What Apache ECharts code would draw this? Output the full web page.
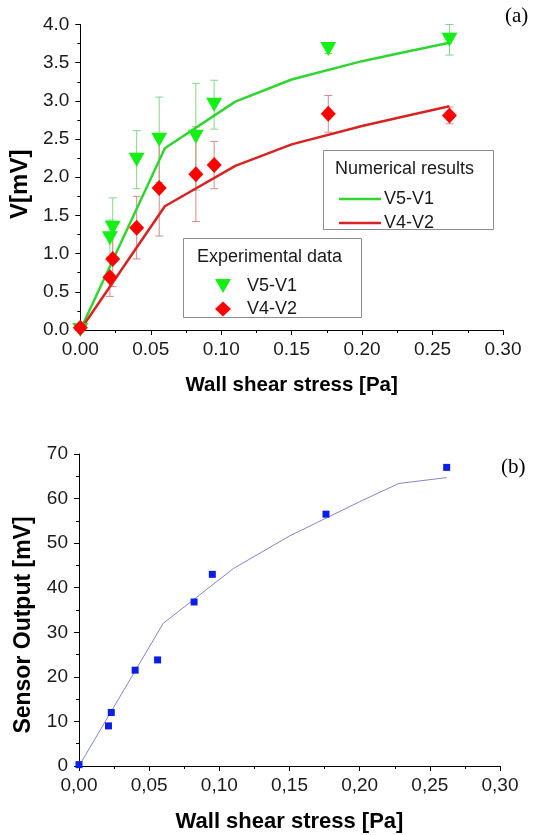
<!DOCTYPE html>
<html>
<head>
    <meta charset="utf-8">
    <script src="https://cdn.jsdelivr.net/npm/echarts@6/dist/echarts.min.js"></script>
</head>
<body style="margin:0;background:#fff;">
<div id="main" style="width: 536px;height:835px;"></div>

<script type="text/javascript">
    // wall shear stress of the experiments [Pa]
    var shearExp = [0, 0.021, 0.023, 0.040, 0.056, 0.082, 0.095, 0.176, 0.262];
    // experimental data (a)
    var expV51 = [0.0, 1.20, 1.34, 2.23, 2.49, 2.53, 2.95, 3.68, 3.80];
    var errV51 = [0, 0.24, 0.39, 0.38, 0.56, 0.70, 0.32, 0.06, 0.20];
    var expV42 = [0.03, 0.69, 0.93, 1.34, 1.86, 2.04, 2.16, 2.83, 2.81];
    var errV42 = [0, 0.25, 0.36, 0.41, 0.63, 0.62, 0.31, 0.24, 0.11];
    // numerical results
    var shearNum = [0, 0.06, 0.11, 0.15, 0.20, 0.228, 0.262];
    var numV51 = [0, 2.38, 2.99, 3.28, 3.52, 3.63, 3.76];
    var numV42 = [0, 1.62, 2.15, 2.43, 2.67, 2.79, 2.93];
    // sensor output (b)
    var sensorOut = [0.3, 9.0, 12.0, 21.5, 23.8, 36.8, 43.0, 56.5, 67.0];
    var sensorFit = [0, 32.0, 44.3, 51.6, 59.3, 63.4, 64.7];

    // tick labels
    var xTicksA = ['0.00', '0.05', '0.10', '0.15', '0.20', '0.25', '0.30'];
    var yTicksA = ['0.0', '0.5', '1.0', '1.5', '2.0', '2.5', '3.0', '3.5', '4.0'];
    var xTicksB = ['0,00', '0,05', '0,10', '0,15', '0,20', '0,25', '0,30'];
    var yTicksB = ['0', '10', '20', '30', '40', '50', '60', '70'];

    var legendText = {
        'num51': 'V5-V1', 'num42': 'V4-V2',
        'exp51': 'V5-V1', 'exp42': 'V4-V2'
    };

    var FONT = '"Liberation Sans", Arial, sans-serif';
    var dom = document.getElementById("main");
    var myChart = echarts.init(dom);

    function pairs(xs, ys) {
        return xs.map(function (x, i) { return [x, ys[i]]; });
    }

    // vertical error bars with caps
    function errorBars(name, xs, ys, errs, color, idx) {
        return {
            name: name,
            type: 'custom',
            xAxisIndex: idx, yAxisIndex: idx,
            z: 1,
            silent: true,
            data: xs.map(function (x, i) { return [x, ys[i] - errs[i], ys[i] + errs[i]]; }),
            encode: { x: 0, y: [1, 2] },
            renderItem: function (params, api) {
                var lo = api.coord([api.value(0), api.value(1)]);
                var hi = api.coord([api.value(0), api.value(2)]);
                if (Math.abs(lo[1] - hi[1]) < 1) return null;
                var w = 4;
                var st = { stroke: color, lineWidth: 1 };
                return {
                    type: 'group',
                    children: [
                        { type: 'line', shape: { x1: lo[0], y1: lo[1], x2: hi[0], y2: hi[1] }, style: st },
                        { type: 'line', shape: { x1: hi[0] - w, y1: hi[1], x2: hi[0] + w, y2: hi[1] }, style: st },
                        { type: 'line', shape: { x1: lo[0] - w, y1: lo[1], x2: lo[0] + w, y2: lo[1] }, style: st }
                    ]
                };
            }
        };
    }

    function xAxisOf(idx, labels, nameSize) {
        return {
            type: 'value', gridIndex: idx, min: 0, max: 0.3, interval: 0.05,
            name: 'Wall shear stress [Pa]', nameLocation: 'middle', nameGap: 45,
            nameTextStyle: { fontFamily: FONT, fontWeight: 'bold', fontSize: nameSize, color: '#000' },
            axisLine: { show: true, onZero: false, lineStyle: { color: '#000', width: 1 } },
            axisTick: { show: true, length: 5, lineStyle: { color: '#000' } },
            minorTick: { show: true, splitNumber: 2, length: 3, lineStyle: { color: '#000' } },
            splitLine: { show: false },
            axisLabel: {
                margin: 10, fontFamily: FONT, fontSize: 19, color: '#1a1a1a',
                formatter: function (v, i) { return labels[i]; }
            }
        };
    }

    function yAxisOf(idx, max, interval, labels, name, nameSize, shift) {
        return {
            type: 'value', gridIndex: idx, min: 0, max: max, interval: interval,
            name: name, nameLocation: 'middle', nameGap: 44,
            nameTextStyle: { fontFamily: FONT, fontWeight: 'bold', fontSize: nameSize, color: '#000', padding: [0, shift, 0, 0] },
            axisLine: { show: true, onZero: false, lineStyle: { color: '#000', width: 1 } },
            axisTick: { show: true, length: 5, lineStyle: { color: '#000' } },
            minorTick: { show: true, splitNumber: 2, length: 3, lineStyle: { color: '#000' } },
            splitLine: { show: false },
            axisLabel: {
                margin: 11, fontFamily: FONT, fontSize: 19, color: '#1a1a1a',
                formatter: function (v, i) { return labels[i]; }
            }
        };
    }

    option = {
        animation: false,
        backgroundColor: '#fff',
        grid: [
            { left: 79, top: 24.5, width: 424, height: 305.5 },
            { left: 79, top: 454, width: 421, height: 312 }
        ],
        xAxis: [xAxisOf(0, xTicksA, 20.5), xAxisOf(1, xTicksB, 22)],
        yAxis: [
            yAxisOf(0, 4, 0.5, yTicksA, 'V[mV]', 24, 14),
            yAxisOf(1, 70, 10, yTicksB, 'Sensor Output [mV]', 23, 30)
        ],
        legend: [
            {
                data: ['num51', 'num42'], orient: 'vertical', left: 334, top: 185,
                icon: 'rect',
                itemWidth: 42, itemHeight: 2.5, itemGap: 6, selectedMode: false,
                formatter: function (n) { return legendText[n]; },
                textStyle: { fontFamily: FONT, fontSize: 18, lineHeight: 18, color: '#1a1a1a', padding: [0, 0, 0, -2] }
            },
            {
                data: [
                    { name: 'exp51', icon: 'path://M0,0 L16,0 L8,14 Z' },
                    { name: 'exp42', icon: 'diamond' }
                ],
                orient: 'vertical', left: 210, top: 272,
                itemWidth: 16, itemHeight: 15, itemGap: 5, selectedMode: false,
                formatter: function (n) { return legendText[n]; },
                textStyle: { fontFamily: FONT, fontSize: 18, lineHeight: 18, color: '#1a1a1a', padding: [0, 0, 0, 11] }
            }
        ],
        graphic: [
            { type: 'rect', z: 0, shape: { x: 323.5, y: 150.5, width: 170, height: 79 }, style: { fill: '#fff', stroke: '#8c8c8c', lineWidth: 1 } },
            { type: 'text', z: 5, left: 335, top: 160, style: { text: 'Numerical results', font: '18px ' + FONT, fill: '#1a1a1a' } },
            { type: 'rect', z: 0, shape: { x: 183.5, y: 238.5, width: 178, height: 79 }, style: { fill: '#fff', stroke: '#8c8c8c', lineWidth: 1 } },
            { type: 'text', z: 5, left: 197, top: 248, style: { text: 'Experimental data', font: '18px ' + FONT, fill: '#1a1a1a' } },
            { type: 'text', left: 505, top: 6, style: { text: '(a)', font: '21px "Liberation Serif", "Times New Roman", serif', fill: '#000' } },
            { type: 'text', left: 501, top: 457, style: { text: '(b)', font: '21px "Liberation Serif", "Times New Roman", serif', fill: '#000' } }
        ],
        series: [
            errorBars('err51', shearExp, expV51, errV51, '#86d886', 0),
            errorBars('err42', shearExp, expV42, errV42, '#d88a8a', 0),
            {
                name: 'num51', type: 'line', xAxisIndex: 0, yAxisIndex: 0, z: 2,
                symbol: 'none', data: pairs(shearNum, numV51),
                lineStyle: { color: '#2fd62f', width: 2.5 }, itemStyle: { color: '#2fd62f' }
            },
            {
                name: 'num42', type: 'line', xAxisIndex: 0, yAxisIndex: 0, z: 2,
                symbol: 'none', data: pairs(shearNum, numV42),
                lineStyle: { color: '#d92323', width: 2.5 }, itemStyle: { color: '#d92323' }
            },
            {
                name: 'exp51', type: 'scatter', xAxisIndex: 0, yAxisIndex: 0, z: 3,
                symbol: 'triangle', symbolRotate: 180, symbolSize: [16, 14], symbolKeepAspect: true,
                data: pairs(shearExp, expV51), itemStyle: { color: '#14f014', opacity: 1 }
            },
            {
                name: 'exp42', type: 'scatter', xAxisIndex: 0, yAxisIndex: 0, z: 4,
                symbol: 'diamond', symbolSize: [15, 16], symbolKeepAspect: true,
                data: pairs(shearExp, expV42), itemStyle: { color: '#ff0000', opacity: 1 }
            },
            {
                name: 'fit', type: 'line', xAxisIndex: 1, yAxisIndex: 1, z: 2,
                symbol: 'none', data: pairs(shearNum, sensorFit),
                lineStyle: { color: '#8585c8', width: 1 }
            },
            {
                name: 'sensor', type: 'scatter', xAxisIndex: 1, yAxisIndex: 1, z: 3,
                symbol: 'rect', symbolSize: 7,
                data: pairs(shearExp, sensorOut), itemStyle: { color: '#0a1ee6', opacity: 1 }
            }
        ]
    };

    if (option && typeof option === "object") {
        myChart.setOption(option, true);
    }
</script>
</body>
</html>
